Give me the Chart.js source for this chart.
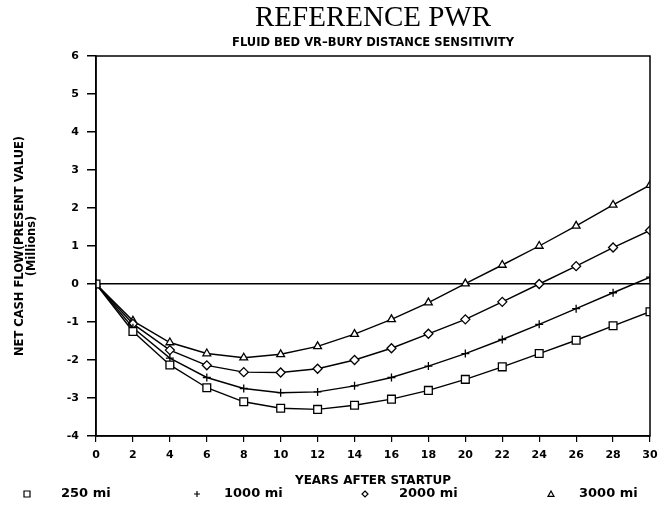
<!DOCTYPE html>
<html>
<head>
<meta charset="utf-8">
<title>Reference PWR</title>
<script src="https://cdn.jsdelivr.net/npm/chart.js@4.4.1/dist/chart.umd.min.js"></script>
<style>
  html, body { margin: 0; padding: 0; background: #fff; }
  canvas { display: block; }
</style>
</head>
<body>
<canvas id="cashChart" width="670" height="508"></canvas>
<script>
// years after startup
const years = [0, 2, 4, 6, 8, 10, 12, 14, 16, 18, 20, 22, 24, 26, 28, 30];

// net cash flow, present value, millions
const miles250  = [0, -1.25, -2.13, -2.73, -3.10, -3.27, -3.30, -3.19, -3.03, -2.80, -2.51, -2.18, -1.83, -1.48, -1.10, -0.73];
const miles1000 = [0, -1.15, -1.95, -2.46, -2.75, -2.86, -2.84, -2.68, -2.46, -2.16, -1.83, -1.46, -1.06, -0.65, -0.23, 0.18];
const miles2000 = [0, -1.05, -1.74, -2.14, -2.32, -2.33, -2.23, -2.00, -1.69, -1.31, -0.93, -0.47, 0.00, 0.47, 0.96, 1.41];
const miles3000 = [0, -0.97, -1.54, -1.83, -1.94, -1.85, -1.64, -1.32, -0.93, -0.49, 0.01, 0.50, 1.00, 1.53, 2.08, 2.60];

const seriesLabels = ['250 mi', '1000 mi', '2000 mi', '3000 mi'];
const yTicks = [-4, -3, -2, -1, 0, 1, 2, 3, 4, 5, 6];

const FONT = '"DejaVu Sans", sans-serif';

function toPoints(vals) {
    return vals.map((v, i) => ({ x: years[i], y: v }));
}

function makeSet(label, vals, style, radius) {
    return {
        label,
        data: toPoints(vals),
        borderColor: '#000',
        borderWidth: 1.4,
        pointStyle: style,
        pointRadius: radius,
        pointBorderWidth: 1.3,
        pointBorderColor: '#000',
        pointBackgroundColor: '#fff',
        tension: 0
    };
}

// frame round the plot, top and right sides too
const frame = {
    id: 'frame',
    afterDatasetsDraw(chart) {
        const a = chart.chartArea;
        const ctx = chart.ctx;
        ctx.save();
        ctx.strokeStyle = '#000';
        ctx.lineWidth = 1.5;
        ctx.strokeRect(a.left, a.top, a.right - a.left, a.bottom - a.top);
        ctx.restore();
    }
};

// legend spread across the bottom like the plotter output
const legendMarkX = [27, 197, 365, 551];
const legendTextX = [61, 224, 399, 579];
const legendY = 494;

function drawMark(ctx, style, x, y, r) {
    ctx.beginPath();
    if (style === 'rect') {
        ctx.rect(x - r, y - r, 2 * r, 2 * r);
    } else if (style === 'cross') {
        ctx.moveTo(x - r, y); ctx.lineTo(x + r, y);
        ctx.moveTo(x, y - r); ctx.lineTo(x, y + r);
    } else if (style === 'rectRot') {
        ctx.moveTo(x, y - r); ctx.lineTo(x + r, y);
        ctx.lineTo(x, y + r); ctx.lineTo(x - r, y); ctx.closePath();
    } else {
        ctx.moveTo(x, y - r); ctx.lineTo(x + r, y + r * 0.8);
        ctx.lineTo(x - r, y + r * 0.8); ctx.closePath();
    }
    ctx.stroke();
}

const plotterLegend = {
    id: 'plotterLegend',
    afterDraw(chart) {
        const ctx = chart.ctx;
        ctx.save();
        ctx.strokeStyle = '#000';
        ctx.fillStyle = '#000';
        ctx.lineWidth = 1.2;
        ctx.font = 'bold 13px ' + FONT;
        ctx.textBaseline = 'middle';
        chart.data.datasets.forEach((ds, i) => {
            drawMark(ctx, ds.pointStyle, legendMarkX[i], legendY, 3);
            ctx.fillText(ds.label, legendTextX[i], legendY);
        });
        ctx.restore();
    }
};

const ctx = document.getElementById('cashChart').getContext('2d');
new Chart(ctx, {
    type: 'line',
    data: {
        datasets: [
            makeSet(seriesLabels[0], miles250, 'rect', 5.5),
            makeSet(seriesLabels[1], miles1000, 'cross', 4),
            makeSet(seriesLabels[2], miles2000, 'rectRot', 4.5),
            makeSet(seriesLabels[3], miles3000, 'triangle', 4.5)
        ]
    },
    options: {
        responsive: false,
        animation: false,
        devicePixelRatio: 1,
        layout: { padding: { top: 0, left: 0, right: 20, bottom: 16 } },
        plugins: {
            legend: { display: false },
            tooltip: { enabled: false },
            title: {
                display: true,
                text: 'REFERENCE PWR',
                fullSize: false,
                color: '#000',
                font: { family: '"Liberation Serif", serif', size: 29, weight: 'normal', lineHeight: 1.2 },
                padding: { top: 1, bottom: 0 }
            },
            subtitle: {
                display: true,
                text: 'FLUID BED VR\u2013BURY DISTANCE SENSITIVITY',
                fullSize: false,
                color: '#000',
                font: { family: FONT, size: 11.5, weight: 'bold', lineHeight: 1.2 },
                padding: { top: 0, bottom: 6.4 }
            }
        },
        scales: {
            x: {
                type: 'linear',
                min: 0,
                max: 30,
                afterFit(scale) { scale.height = 56; },
                ticks: {
                    stepSize: 2,
                    padding: 7,
                    color: '#000',
                    font: { family: FONT, size: 11, weight: 'bold' }
                },
                grid: { drawOnChartArea: false, tickLength: 6, tickColor: '#000', lineWidth: 1.2 },
                border: { color: '#000', width: 1.5 },
                title: {
                    display: true,
                    text: 'YEARS AFTER STARTUP',
                    color: '#000',
                    font: { family: FONT, size: 12, weight: 'bold', lineHeight: 1.2 },
                    padding: { top: 0, bottom: 3.8 }
                }
            },
            y: {
                type: 'linear',
                min: yTicks[0],
                max: yTicks[yTicks.length - 1],
                afterFit(scale) { scale.width = 96; },
                afterBuildTicks(scale) { scale.ticks = yTicks.map(v => ({ value: v })); },
                ticks: {
                    padding: 8,
                    color: '#000',
                    font: { family: FONT, size: 11, weight: 'bold' }
                },
                grid: {
                    tickLength: 9,
                    tickColor: '#000',
                    color: c => (c.tick && c.tick.value === 0 ? '#000' : 'rgba(0,0,0,0)'),
                    lineWidth: 1.5
                },
                border: { color: '#000', width: 1.5 },
                title: {
                    display: true,
                    text: ['NET CASH FLOW(PRESENT VALUE)', '(Millions)'],
                    color: '#000',
                    font: { family: FONT, size: 11.5, weight: 'bold', lineHeight: 1.05 },
                    padding: { top: 14, bottom: 0 }
                }
            }
        }
    },
    plugins: [frame, plotterLegend]
});
</script>
</body>
</html>
